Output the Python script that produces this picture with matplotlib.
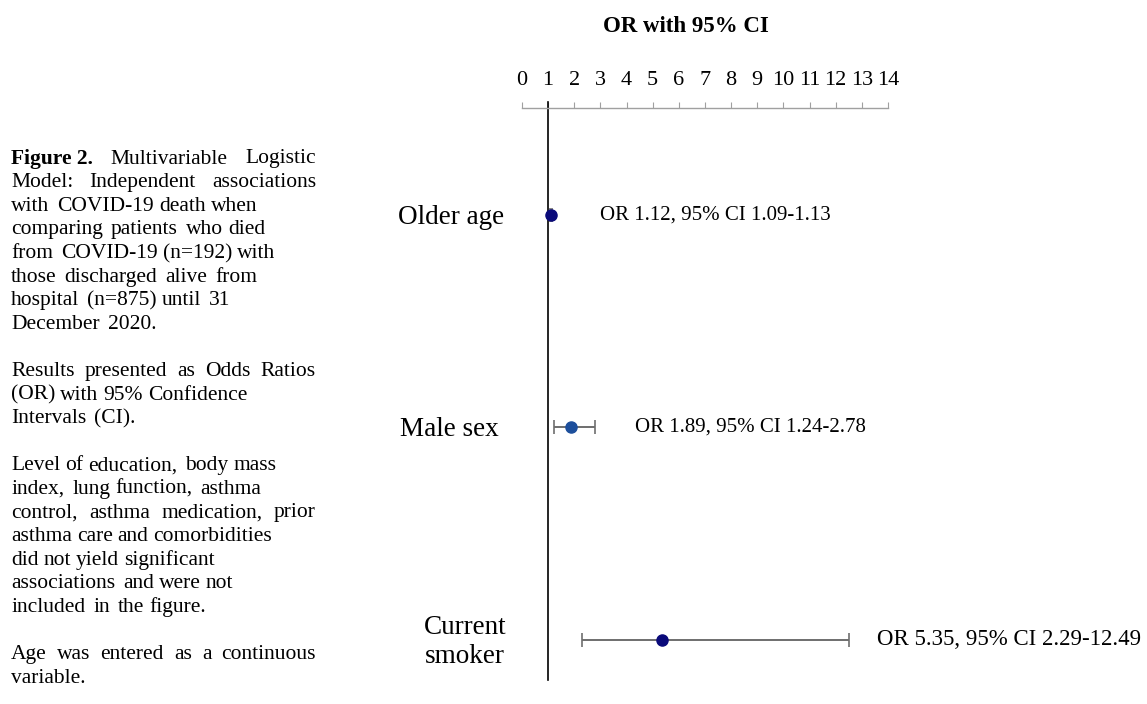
import matplotlib.pyplot as plt
from matplotlib.transforms import blended_transform_factory

plt.rcParams['font.family'] = ['Liberation Serif', 'DejaVu Serif']

# Data
variables = ['Older age', 'Male sex', 'Current\nsmoker']
odds_ratio = [1.12, 1.89, 5.35]
ci_low = [1.09, 1.24, 2.29]
ci_high = [1.13, 2.78, 12.49]
labels = ['OR 1.12, 95% CI 1.09-1.13',
          'OR 1.89, 95% CI 1.24-2.78',
          'OR 5.35, 95% CI 2.29-12.49']
ticks = list(range(0, 15))
dot_colors = ['#0a0a7a', '#1d4f9c', '#0a0a7a']

caption = [
    'Figure 2. Multivariable Logistic',
    'Model: Independent associations',
    'with  COVID-19 death when',
    'comparing  patients  who died',
    'from  COVID-19 (n=192) with',
    'those  discharged  alive  from',
    'hospital  (n=875) until  31',
    'December  2020.',
    '',
    'Results presented as Odds Ratios',
    '(OR) with 95% Confidence',
    'Intervals  (CI).',
    '',
    'Level of education,  body mass',
    'index,  lung function,  asthma',
    'control, asthma medication, prior',
    'asthma care and comorbidities',
    'did not yield significant',
    'associations  and were not',
    'included  in  the figure.',
    '',
    'Age was entered as a continuous',
    'variable.',
]
# lines that are spread to the full column width
caption_justify = [1, 1, 0, 0, 0, 0, 0, 0, 0,
                   1, 0, 0, 0,
                   0, 0, 1, 0, 0, 0, 0, 0,
                   1, 0]

W, H = 1147, 704
fig = plt.figure(figsize=(W / 100, H / 100), dpi=100)

# axes: x 0..14 spans pixels 522..888, top at y=108, bottom at y=680
ax = fig.add_axes([522 / W, 1 - 680 / H, (888 - 522) / W, (680 - 108) / H])
ax.set_xlim(0, 14)
ax.set_ylim(2.19, -0.504)
ax.set_facecolor('none')
for s in ['left', 'right', 'bottom']:
    ax.spines[s].set_visible(False)
ax.spines['top'].set_color('#a0a0a0')
ax.spines['top'].set_linewidth(1.0)
ax.xaxis.tick_top()
ax.set_xticks(ticks)
ax.set_xticklabels([str(t) for t in ticks], fontsize=16)
ax.tick_params(axis='x', direction='out', length=4, color='#a0a0a0', pad=9)
ax.set_yticks([])

# reference line at OR = 1
ax.plot([1, 1], [-0.53, 2.19], color='black', lw=1.2, clip_on=False, zorder=2)

for i in range(len(variables)):
    ax.errorbar(odds_ratio[i], i,
                xerr=[[odds_ratio[i] - ci_low[i]], [ci_high[i] - odds_ratio[i]]],
                fmt='none', ecolor='#6e6e6e', elinewidth=1.4, capsize=5, capthick=1.2,
                zorder=3)
    ax.plot(odds_ratio[i], i, 'o', color=dot_colors[i], markersize=8, zorder=4)

# annotation positions (data units) and sizes
label_x = [2.98, 4.32, 13.57]
label_size = [15, 15, 16.5]
for i, lab in enumerate(labels):
    ax.text(label_x[i], i, lab, fontsize=label_size[i], va='center', ha='left')

trans = blended_transform_factory(fig.transFigure, ax.transData)
row_x = [451, 449, 465]
for i, v in enumerate(variables):
    ax.text(row_x[i] / W, i + 0.01, v, transform=trans, fontsize=19.5,
            ha='center', va='center', multialignment='center', linespacing=1.2)

fig.text(686 / W, 1 - 27 / H, 'OR with 95% CI', fontsize=16.5, fontweight='bold',
         ha='center', va='center')

# caption on the left
fig.canvas.draw()
renderer = fig.canvas.get_renderer()
y0 = 159
dy = 23.6
x0 = 11
x_right = 316
space = 5.0
for k, line in enumerate(caption):
    if not line:
        continue
    y = 1 - (y0 + k * dy) / H
    words = line.split(' ')
    if line.startswith('Figure 2.'):
        words = ['Figure 2.'] + words[2:]
    items = []
    for w in words:
        if w == '':
            # double space: a little wider than a single one
            items.append((None, -2.0))
            continue
        weight = 'bold' if w == 'Figure 2.' else 'normal'
        t = fig.text(0, y, w, fontsize=15.5, fontweight=weight, ha='left', va='center')
        items.append((t, t.get_window_extent(renderer).width))
    n_words = len([it for it in items if it[0] is not None])
    gap = space
    if caption_justify[k] and n_words > 1:
        total = sum(wd for _, wd in items)
        gap = max(3.5, (x_right - x0 - total) / (len(items) - 1))
    x = x0
    for t, wd in items:
        if t is not None:
            t.set_x(x / W)
        x += wd + gap

fig.savefig('out.png', dpi=100)
